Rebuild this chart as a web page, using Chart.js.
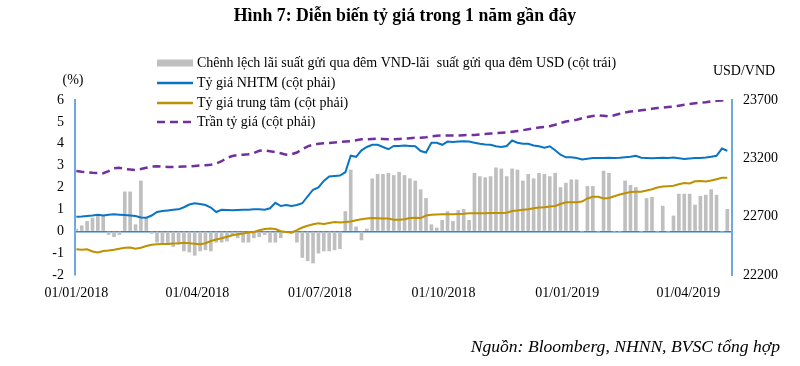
<!DOCTYPE html>
<html>
<head>
<meta charset="utf-8">
<script src="https://cdn.jsdelivr.net/npm/chart.js@4.4.1/dist/chart.umd.min.js"></script>
<style>
  html, body { margin: 0; padding: 0; background: #fff; }
  #wrap { position: relative; width: 800px; height: 366px; }
</style>
</head>
<body>
<div id="wrap"><canvas id="myChart"></canvas></div>
<script>
'use strict';

// DATA (one value every 4 days, starting 01/01/2018)
const DAY_STEP = 4;

// Chênh lệch lãi suất qua đêm VND - USD (%)
const spreadPct = [
  0.1, 0.25, 0.45, 0.6, 0.7, 0.7, -0.15, -0.25, -0.15, 1.8,
  1.8, 0.3, 2.3, 0.6, -0.1, -0.5, -0.55, -0.6, -0.7, -0.6,
  -0.9, -0.95, -1.1, -0.9, -0.85, -0.9, -0.5, -0.5, -0.45, -0.2,
  -0.3, -0.5, -0.5, -0.3, -0.25, -0.15, -0.5, -0.5, -0.3, -0.05,
  -0.1, -0.5, -1.2, -1.35, -1.45, -1.0, -0.9, -0.9, -0.85, -0.8,
  0.9, 2.8, 0.2, -0.4, 0.1, 2.4, 2.6, 2.6, 2.65, 2.55,
  2.7, 2.55, 2.4, 2.3, 1.9, 1.5, 0.3, 0.15, 0.5, 0.9,
  0.45, 0.95, 1.0, 0.5, 2.65, 2.5, 2.45, 2.5, 2.9, 2.85,
  2.5, 2.85, 2.8, 2.3, 2.6, 2.4, 2.65, 2.6, 2.5, 2.65,
  2.0, 2.2, 2.35, 2.35, 0, 2.05, 2.05, 0, 2.75, 2.65,
  0, 0, 2.3, 2.1, 2.0, 0, 1.5, 1.55, 0, 1.15,
  0, 0.7, 1.7, 1.7, 1.7, 1.2, 1.6, 1.65, 1.9, 1.65,
  0, 1.0
];

// Tỷ giá NHTM (USD/VND)
const nhtmRate = [
  22700, 22702, 22706, 22710, 22716, 22710, 22717, 22721, 22717, 22714,
  22710, 22706, 22693, 22691, 22710, 22740, 22748, 22753, 22759, 22763,
  22781, 22804, 22815, 22809, 22800, 22778, 22740, 22759, 22757, 22755,
  22757, 22759, 22759, 22763, 22763, 22759, 22772, 22819, 22791, 22800,
  22791, 22800, 22815, 22875, 22931, 22950, 23006, 23044, 23049, 23053,
  23081, 23222, 23213, 23269, 23297, 23316, 23316, 23297, 23278, 23306,
  23306, 23310, 23306, 23303, 23263, 23250, 23334, 23334, 23316, 23344,
  23340, 23344, 23347, 23344, 23334, 23325, 23319, 23316, 23303, 23297,
  23306, 23353, 23334, 23325, 23325, 23310, 23303, 23291, 23303, 23269,
  23231, 23209, 23209, 23203, 23190, 23197, 23203, 23203, 23203, 23205,
  23203, 23205, 23209, 23213, 23222, 23205, 23203, 23201, 23203, 23205,
  23203, 23207, 23201, 23194, 23199, 23203, 23203, 23207, 23213, 23222,
  23284, 23265
];

// Tỷ giá trung tâm (USD/VND)
const centralRate = [
  22421, 22416, 22421, 22402, 22393, 22406, 22410, 22416, 22425, 22434,
  22436, 22425, 22434, 22448, 22459, 22463, 22466, 22466, 22470, 22472,
  22476, 22472, 22468, 22463, 22472, 22491, 22504, 22515, 22528, 22541,
  22549, 22556, 22564, 22569, 22584, 22594, 22598, 22594, 22575, 22568,
  22564, 22584, 22607, 22622, 22635, 22643, 22637, 22646, 22654, 22650,
  22654, 22659, 22669, 22678, 22684, 22688, 22686, 22684, 22684, 22673,
  22674, 22678, 22688, 22691, 22688, 22710, 22716, 22719, 22721, 22721,
  22721, 22723, 22725, 22729, 22729, 22729, 22729, 22731, 22731, 22731,
  22733, 22748, 22753, 22759, 22763, 22772, 22778, 22781, 22787, 22791,
  22809, 22823, 22823, 22824, 22830, 22856, 22871, 22871, 22856, 22860,
  22875, 22890, 22901, 22911, 22913, 22913, 22924, 22935, 22950, 22958,
  22961, 22965, 22978, 22988, 22984, 23003, 23006, 23001, 23010, 23021,
  23033, 23034
];

// Trần tỷ giá (USD/VND)
const ceilingRate = [
  23091, 23085, 23081, 23076, 23074, 23072, 23091, 23115, 23119, 23109,
  23104, 23100, 23109, 23119, 23130, 23132, 23128, 23126, 23126, 23128,
  23130, 23130, 23134, 23138, 23141, 23145, 23156, 23175, 23205, 23220,
  23228, 23231, 23235, 23246, 23265, 23269, 23261, 23254, 23243, 23231,
  23235, 23250, 23278, 23303, 23316, 23325, 23329, 23331, 23336, 23340,
  23344, 23348, 23355, 23363, 23364, 23366, 23368, 23366, 23363, 23363,
  23366, 23368, 23372, 23376, 23376, 23381, 23389, 23393, 23396, 23396,
  23396, 23396, 23398, 23400, 23400, 23404, 23409, 23413, 23415, 23419,
  23423, 23428, 23434, 23441, 23449, 23456, 23464, 23469, 23475, 23488,
  23503, 23516, 23522, 23531, 23543, 23554, 23563, 23569, 23565, 23559,
  23569, 23582, 23593, 23601, 23606, 23612, 23618, 23625, 23631, 23634,
  23640, 23644, 23651, 23659, 23666, 23672, 23676, 23681, 23689, 23693,
  23696, 23700
];

// x axis labels (days since 01/01/2018)
const tickDays = [0, 90, 181, 273, 365, 455];
const tickLabels = ['01/01/2018', '01/04/2018', '01/07/2018', '01/10/2018', '01/01/2019', '01/04/2019'];

const legendLabels = [
  'Chênh lệch lãi suất gửi qua đêm VND-lãi  suất gửi qua đêm USD (cột trái)',
  'Tỷ giá NHTM (cột phải)',
  'Tỷ giá trung tâm (cột phải)',
  'Trần tỷ giá (cột phải)'
];

// COLORS
const GRAY = '#bfbfbf';
const BLUE = '#0a74c4';
const GOLD = '#bf9000';
const PURPLE = '#7030a0';
const AXIS_BLUE = '#6fa8dc';
const ZERO_BLUE = '#2f86d0';
const FONT = "'Liberation Serif', 'Times New Roman', serif";

Chart.defaults.font.family = FONT;
Chart.defaults.color = '#000';

function toPoints(values) {
  return values.map((v, i) => ({ x: i * DAY_STEP, y: v }));
}

// draws title, legend, units and source
const textPlugin = {
  id: 'texts',
  afterDraw(chart) {
    const ctx = chart.ctx;
    ctx.save();
    ctx.fillStyle = '#000';
    ctx.textBaseline = 'alphabetic';

    ctx.font = 'bold 17.8px ' + FONT;
    ctx.textAlign = 'center';
    ctx.fillText('Hình 7: Diễn biến tỷ giá trong 1 năm gần đây', 405, 21);

    ctx.font = 'italic 17.6px ' + FONT;
    ctx.textAlign = 'right';
    ctx.fillText('Nguồn: Bloomberg, NHNN, BVSC tổng hợp', 780, 352);

    ctx.font = '14px ' + FONT;
    ctx.textAlign = 'center';
    ctx.fillText('(%)', 73, 84);
    ctx.fillText('USD/VND', 744, 75);

    // legend
    const lx = 157, lw = 36;
    const rows = [63, 83, 103, 122];
    ctx.fillStyle = GRAY;
    ctx.fillRect(lx, rows[0] - 3.5, lw, 7);

    ctx.lineWidth = 2.5;
    ctx.strokeStyle = BLUE;
    ctx.beginPath(); ctx.moveTo(lx, rows[1]); ctx.lineTo(lx + lw, rows[1]); ctx.stroke();
    ctx.strokeStyle = GOLD;
    ctx.beginPath(); ctx.moveTo(lx, rows[2]); ctx.lineTo(lx + lw, rows[2]); ctx.stroke();
    ctx.strokeStyle = PURPLE;
    ctx.setLineDash([8, 5]);
    ctx.beginPath(); ctx.moveTo(lx, rows[3]); ctx.lineTo(lx + lw, rows[3]); ctx.stroke();
    ctx.setLineDash([]);

    ctx.fillStyle = '#000';
    ctx.font = '14px ' + FONT;
    ctx.textAlign = 'left';
    ctx.textBaseline = 'middle';
    for (let i = 0; i < legendLabels.length; i++) {
      ctx.fillText(legendLabels[i], lx + lw + 4, rows[i]);
    }
    ctx.restore();
  }
};

const data = {
  datasets: [
    {
      type: 'bar',
      label: legendLabels[0],
      data: toPoints(spreadPct),
      backgroundColor: GRAY,
      barThickness: 3,
      yAxisID: 'y',
      order: 10
    },
    {
      type: 'line',
      label: legendLabels[1],
      data: toPoints(nhtmRate),
      borderColor: BLUE,
      borderWidth: 2,
      pointRadius: 0,
      yAxisID: 'y2',
      order: 1
    },
    {
      type: 'line',
      label: legendLabels[2],
      data: toPoints(centralRate),
      borderColor: GOLD,
      borderWidth: 2,
      pointRadius: 0,
      yAxisID: 'y2',
      order: 2
    },
    {
      type: 'line',
      label: legendLabels[3],
      data: toPoints(ceilingRate),
      borderColor: PURPLE,
      borderWidth: 2.5,
      borderDash: [8, 5],
      pointRadius: 0,
      yAxisID: 'y2',
      order: 3
    }
  ]
};

const config = {
  data: data,
  options: {
    responsive: true,
    maintainAspectRatio: false,
    animation: false,
    layout: { padding: { top: 100, left: 0, right: 0, bottom: 0 } },
    plugins: {
      legend: { display: false },
      tooltip: { enabled: false }
    },
    scales: {
      x: {
        type: 'linear',
        offset: false,
        min: -1,
        max: 487.5,
        afterBuildTicks: (scale) => {
          scale.ticks = tickDays.map(d => ({ value: d }));
        },
        afterFit: (scale) => { scale.height = 91; },
        ticks: {
          autoSkip: false,
          maxRotation: 0,
          padding: 10,
          font: { size: 14 },
          callback: (value, index) => tickLabels[index]
        },
        grid: { display: false, drawTicks: false, offset: false },
        border: { display: false }
      },
      y: {
        position: 'left',
        min: -2,
        max: 6,
        afterFit: (scale) => { scale.width = 75; },
        ticks: { stepSize: 1, padding: 11, font: { size: 14 } },
        grid: {
          drawTicks: false,
          color: (c) => (c.tick && c.tick.value === 0 ? ZERO_BLUE : 'rgba(0,0,0,0)'),
          lineWidth: 1.5
        },
        border: { display: true, color: AXIS_BLUE, width: 2 }
      },
      y2: {
        position: 'right',
        min: 22200,
        max: 23700,
        afterFit: (scale) => { scale.width = 68; },
        ticks: {
          stepSize: 500,
          padding: 11,
          font: { size: 14 },
          callback: (value) => String(value)
        },
        grid: { drawOnChartArea: false, drawTicks: false },
        border: { display: true, color: AXIS_BLUE, width: 2 }
      }
    }
  },
  plugins: [textPlugin]
};

const myChart = new Chart(document.getElementById('myChart'), config);
</script>
</body>
</html>
